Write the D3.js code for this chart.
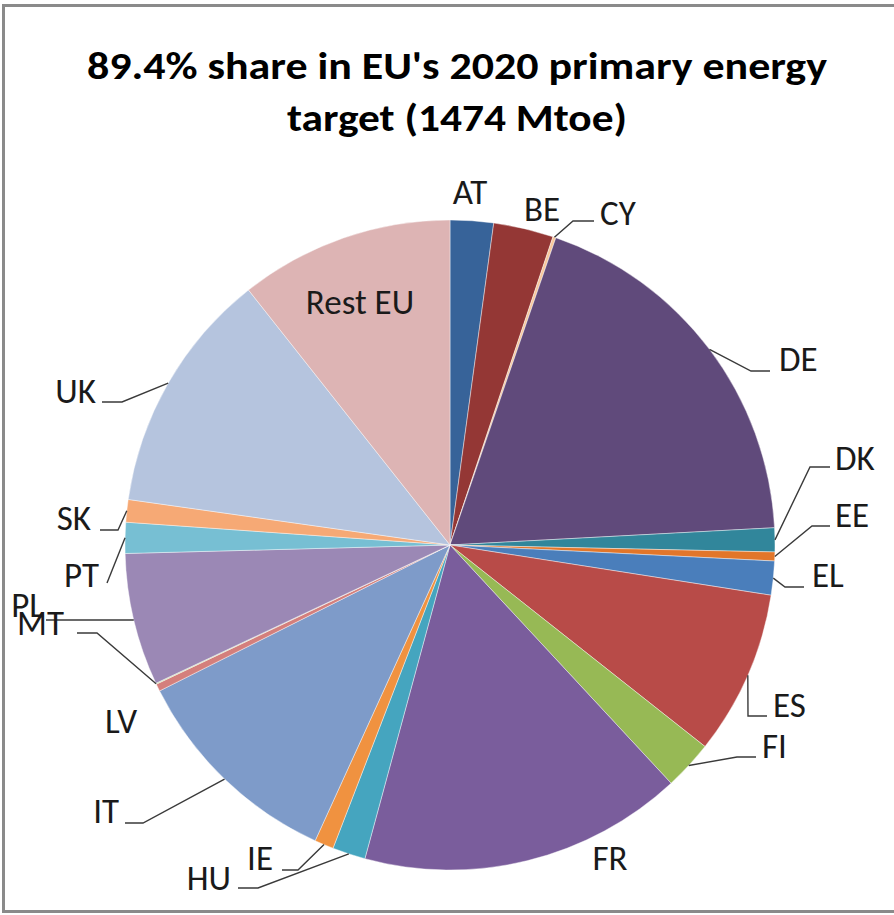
<!DOCTYPE html>
<html>
<head>
<meta charset="utf-8">
<script src="https://cdn.jsdelivr.net/npm/d3@7"></script>
<style>
  body { margin: 0; background: #fff; }
  svg { display: block; }
</style>
</head>
<body>
<svg id="svg" width="894" height="915"></svg>
<script>
// Mtoe (total of the pie ~1466)
const countries = ['AT', 'BE', 'CY', 'DE', 'DK', 'EE', 'EL', 'ES', 'FI', 'FR', 'HU', 'IE', 'IT', 'LV', 'MT', 'PL', 'PT', 'SK', 'UK', 'Rest EU']
const values = [31.5, 43.7, 2.2, 276.6, 17.4, 6.5, 24.7, 119.8, 35.9, 236.3, 24.1, 13.9, 158.0, 5.4, 0.7, 96.4, 22.5, 16.4, 177.6, 156]
const colors = ['#376399', '#943735', '#f8c79c', '#604a7b', '#31869b', '#e2762a', '#4a7ebb', '#b84b48', '#97b955', '#7a5d9c',
  '#45a5bf', '#f09240', '#7e9bc9', '#d47f7c', '#c4d79b', '#9b88b5', '#77bfd3', '#f6a975', '#b5c4de', '#ddb4b4']
const titleLines = ["89.4% share in EU's 2020 primary energy", 'target (1474 Mtoe)']

// where Excel put each label: text x / baseline, anchor, and leader elbow + end
const labelPos = {
  'AT': { x: 470, y: 204, a: 'middle' },
  'BE': { x: 542, y: 221, a: 'middle' },
  'CY': { x: 600, y: 225, a: 'start', leader: [[573, 221], [594, 221]] },
  'DE': { x: 779, y: 371, a: 'start', leader: [[751, 371], [770, 371]] },
  'DK': { x: 835, y: 470, a: 'start', leader: [[810, 467], [830, 467]] },
  'EE': { x: 835, y: 527, a: 'start', leader: [[812, 526], [830, 526]] },
  'EL': { x: 812, y: 587, a: 'start', leader: [[785, 587], [804, 587]] },
  'ES': { x: 773, y: 717, a: 'start', leader: [[748, 716], [767, 716]] },
  'FI': { x: 762, y: 758, a: 'start', leader: [[737, 757], [756, 757]] },
  'FR': { x: 610, y: 870, a: 'middle' },
  'HU': { x: 231, y: 890, a: 'end', leader: [[258, 888], [238, 888]] },
  'IE': { x: 273, y: 870, a: 'end', leader: [[298, 870], [282, 870]] },
  'IT': { x: 119, y: 823, a: 'end', leader: [[143, 823], [125, 823]] },
  'LV': { x: 137, y: 733, a: 'end' },
  'MT': { x: 64, y: 635, a: 'end', leader: [[97, 633], [77, 633]] },
  'PL': { x: 44, y: 617, a: 'end', leader: [[60, 620], [46, 620]] },
  'PT': { x: 99, y: 587, a: 'end', leader: [[107, 583], [107, 583]] },
  'SK': { x: 91, y: 530, a: 'end', leader: [[118, 530], [100, 530]] },
  'UK': { x: 96, y: 403, a: 'end', leader: [[122, 402], [102, 402]] },
  'Rest EU': { x: 360, y: 314, a: 'middle' }
}

const width = 894
const height = 915
const cx = 450
const cy = 545
const radius = 325

let svg = d3.select('#svg')

// frame
svg.append('rect')
  .attr('x', 3.5).attr('y', 5.5)
  .attr('width', width + 10).attr('height', 906)
  .attr('fill', '#fff')
  .attr('stroke', '#8a8a8a')
  .attr('stroke-width', 3)

// title, stretched to the width the Calibri original takes
const titleWidths = [740, 340]
let title = svg.append('text')
  .attr('text-anchor', 'middle')
  .attr('font-family', 'Carlito, Lato, "Open Sans", sans-serif')
  .attr('font-weight', 'bold')
  .attr('font-size', 38)
  .attr('fill', '#000')
title.selectAll('tspan')
  .data(titleLines)
  .enter()
  .append('tspan')
  .attr('x', 457)
  .attr('y', (d, i) => 79 + i * 52)
  .attr('textLength', (d, i) => titleWidths[i])
  .attr('lengthAdjust', 'spacingAndGlyphs')
  .text(d => d)

let data = countries.map((c, i) => ({ name: c, value: values[i], color: colors[i] }))

let pie = d3.pie()
  .sort(null)
  .value(d => d.value)

let arcs = pie(data)

let arc = d3.arc()
  .innerRadius(0)
  .outerRadius(radius)

let g = svg.append('g')
  .attr('transform', `translate(${cx},${cy})`)

g.selectAll('path')
  .data(arcs)
  .enter()
  .append('path')
  .attr('d', arc)
  .attr('fill', d => d.data.color)
  .attr('stroke', '#fff')
  .attr('stroke-width', 0.6)
  .attr('stroke-opacity', 0.7)

// point on the rim at the middle of a slice, in page coords
let rimPoint = (d) => {
  let a = (d.startAngle + d.endAngle) / 2
  return [cx + radius * Math.sin(a), cy - radius * Math.cos(a)]
}

let labelled = arcs.filter(d => labelPos[d.data.name] && labelPos[d.data.name].leader)

svg.selectAll('polyline.leader')
  .data(labelled)
  .enter()
  .append('polyline')
  .attr('class', 'leader')
  .attr('points', d => [rimPoint(d)].concat(labelPos[d.data.name].leader).map(p => p.join(',')).join(' '))
  .attr('fill', 'none')
  .attr('stroke', '#3a3a3a')
  .attr('stroke-width', 1.4)

svg.selectAll('text.lbl')
  .data(arcs)
  .enter()
  .append('text')
  .attr('class', 'lbl')
  .attr('x', d => labelPos[d.data.name].x)
  .attr('y', d => labelPos[d.data.name].y)
  .attr('text-anchor', d => labelPos[d.data.name].a)
  .attr('font-family', 'Carlito, Lato, "Open Sans", sans-serif')
  .attr('font-size', 35)
  .attr('fill', '#1a1a1a')
  .text(d => d.data.name)
</script>
</body>
</html>
